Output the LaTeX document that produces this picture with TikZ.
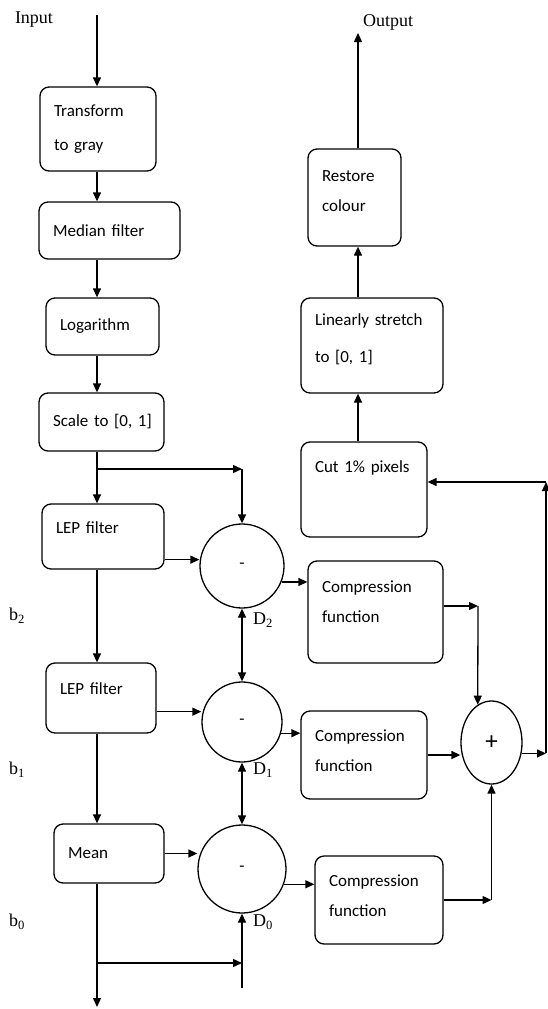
\documentclass[tikz,border=0pt]{standalone}
\usepackage{fontspec}
\setmainfont{Liberation Serif}
\newfontfamily\boxfont{Carlito}
\usetikzlibrary{calc,arrows.meta,shapes.geometric}
\tikzset{
	blk/.style={draw, rounded corners=9pt, inner xsep=14pt, align=left, font=\boxfont\fontsize{17}{30}\selectfont},
	dif/.style={draw, circle, inner sep=0pt, font=\boxfont\fontsize{17}{20}\selectfont},
	arr/.style={-{Triangle[length=9pt,width=8pt]}},
	dbl/.style={{Triangle[length=9pt,width=8pt]}-{Triangle[length=9pt,width=8pt]}},
	lbl/.style={font=\fontsize{18}{20}\selectfont, inner sep=0pt},
}

\begin{document}
\begin{tikzpicture}[x=1pt, y=-1pt, line width=1.3pt]
			%%%%% START %%%%%
			\useasboundingbox (0,0) rectangle (547,1009);
			
			\node[lbl] (input) at (34,20) {Input};
			\node[lbl] (output) at (388,22) {Output};
			
			% left column
			\node[blk, text width=88pt, minimum height=84pt] (gray) at (98,129) {Transform\\[4pt]to gray};
			\node[blk, text width=113pt, minimum height=57pt] (median) at (109.5,230.5) {Median filter};
			\node[blk, text width=85pt, minimum height=57pt] (log) at (102.5,326.5) {Logarithm};
			\node[blk, text width=97pt, minimum height=58pt] (scale) at (101.5,422) {\mbox{Scale to [0, 1]}};
			\node[blk, text width=94pt, minimum height=65pt, text depth=18pt] (lep2) at (103,536.5) {LEP filter};
			\node[blk, text width=82pt, minimum height=70pt, text depth=18pt] (lep1) at (101,698) {LEP filter};
			\node[blk, text width=82pt, minimum height=59pt] (mean) at (109,853.5) {Mean};
			
			% differences
			\node[dif, minimum size=84pt] (d2) at (242,566) {-};
			\node[dif, minimum size=80pt] (d1) at (242,722) {-};
			\node[dif, minimum size=88pt] (d0) at (242,869) {-};
			\node[dif, ellipse, minimum width=61pt, minimum height=83pt, font=\boxfont\fontsize{25}{27}\selectfont] (plus) at (491.5,742.5) {+};
			
			% right column
			\node[blk, text width=65pt, minimum height=97pt, text depth=42pt] (restore) at (354.5,197.5) {Restore\\colour};
			\node[blk, text width=114pt, minimum height=95pt, text depth=51pt] (stretch) at (372,345.5) {Linearly stretch\\[7pt]to [0, 1]};
			\node[blk, text width=98pt, minimum height=95pt, text depth=45pt] (cut) at (364,489.5) {Cut 1\% pixels};
			\node[blk, text width=107pt, minimum height=102pt, text depth=50pt] (comp2) at (375.5,612) {Compression\\function};
			\node[blk, text width=98pt, minimum height=88pt, text depth=38pt] (comp1) at (364,755) {Compression\\function};
			\node[blk, text width=100pt, minimum height=88pt, text depth=38pt] (comp0) at (379,900) {Compression\\function};
			
			\node[lbl] (b2) at (17,616) {b\textsubscript{2}};
			\node[lbl] (b1) at (17,770) {b\textsubscript{1}};
			\node[lbl] (b0) at (17,922) {b\textsubscript{0}};
			\node[lbl] (D2) at (263,620) {D\textsubscript{2}};
			\node[lbl] (D1) at (263,770) {D\textsubscript{1}};
			\node[lbl] (D0) at (263,922) {D\textsubscript{0}};
			
			% main line
			\coordinate (in) at (97,15);
			\coordinate (j2) at (97,469);
			\coordinate (t2) at (242,469);
			\coordinate (j0) at (97,963);
			\coordinate (t0) at (242,963);
			\coordinate (low) at (97,1007);
			\coordinate (d0in) at (242,988);
			
			\draw[arr] (in) -- (in |- gray.north);
			\draw[arr] (in |- gray.south) -- (in |- median.north);
			\draw[arr] (in |- median.south) -- (in |- log.north);
			\draw[arr] (in |- log.south) -- (in |- scale.north);
			\draw (in |- scale.south) -- (j2);
			\draw[arr] (j2) -- (in |- lep2.north);
			\draw[arr] (j2) -- (t2);
			\draw[arr] (t2) -- (d2.north);
			\draw[arr] (in |- lep2.south) -- (in |- lep1.north);
			\draw[arr] (in |- lep1.south) -- (in |- mean.north);
			\draw (in |- mean.south) -- (j0);
			\draw[arr] (j0) -- (low);
			\draw[arr] (j0) -- (t0);
			\draw[arr] (d0in) -- (d0.south);
			
			\draw[arr] ([yshift=10pt]lep2.south east) -- ([yshift=10pt]lep2.south east -| d2.west);
			\draw[arr] ([yshift=22pt]lep1.south east) -- ([yshift=22pt]lep1.south east -| d1.west);
			\draw[arr] (mean.east) -- (mean.east -| d0.west);
			\draw[dbl] (d2.south) -- (d1.north);
			\draw[dbl] (d1.south) -- (d0.north);
			
			\draw[arr] (d2.-22) -- (d2.-22 -| comp2.west);
			\draw[arr] (d1.-16) -- (d1.-16 -| comp1.west);
			\draw[arr] (d0.-20) -- (d0.-20 -| comp0.west);
			
			% sum
			\coordinate (s2) at (478,606);
			\draw[arr] ([yshift=6pt]comp2.east) -- (s2);
			\draw[arr] (s2) -- (plus.110);
			\draw[arr] (comp1.east) -- (comp1.east -| plus.west);
			\draw[arr] (comp0.east) -- (comp0.east -| plus.south);
			\draw[arr] (comp0.east -| plus.south) -- (plus.south);
			
			% feedback
			\coordinate (fb) at (546,482);
			\draw[arr] (plus.-20) -- (plus.-20 -| fb);
			\draw[arr] (plus.-20 -| fb) -- (fb);
			\draw[arr] (fb) -- (fb -| cut.east);
			
			% output
			\coordinate (out) at (358,33);
			\draw[arr] (out |- cut.north) -- (out |- stretch.south);
			\draw[arr] (out |- stretch.north) -- (out |- restore.south);
			\draw[arr] (out |- restore.north) -- (out);
			
			%%%%% END %%%%%
\end{tikzpicture}
\end{document}
